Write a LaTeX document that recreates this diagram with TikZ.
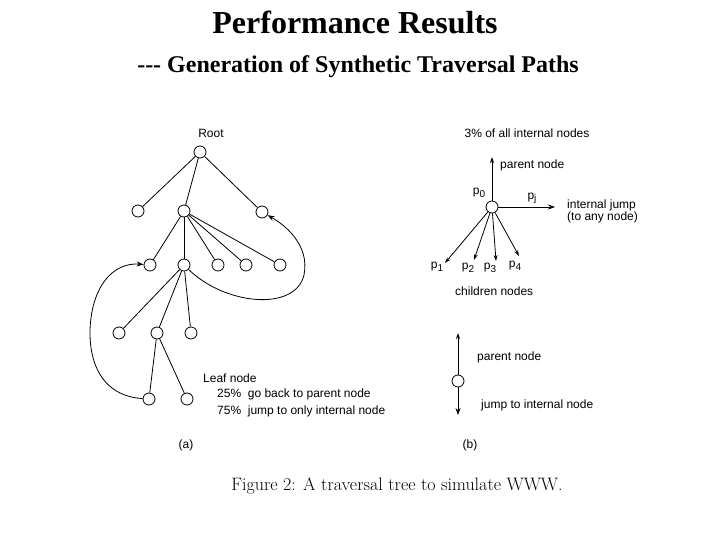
\documentclass[tikz,border=0pt]{standalone}
\usepackage{fontspec}
\newfontfamily\ttl{Liberation Serif}
\newfontfamily\lbl{Liberation Sans}
\usetikzlibrary{arrows.meta}
\newcommand{\psub}[1]{p\raisebox{-0.35ex}{\fontsize{10}{12}\selectfont#1}}
\begin{document}
\begin{tikzpicture}[x=1pt,y=-1pt,
  tn/.style={circle,draw,line width=0.8pt,minimum size=12pt,inner sep=0pt},
  txt/.style={font=\lbl\fontsize{12}{14}\selectfont,inner sep=0pt},
  ed/.style={line width=0.8pt},
  oa/.style={ed,-{Stealth[open,length=6pt,width=4pt]}},
  fa/.style={ed,-{Stealth[length=7pt,width=5pt]}}]
\useasboundingbox (0,0) rectangle (720,540);
\node[font=\ttl\bfseries\fontsize{32}{36}\selectfont] (title) at (355,22) {Performance Results};
\node[font=\ttl\bfseries\fontsize{24}{28}\selectfont] (sub) at (358,67) {--- Generation of Synthetic Traversal Paths};
% tree (a)
\node[tn] (r) at (200,152) {};
\node[txt] (rl) at (211,133) {Root};
\node[tn] (a1) at (138,211) {};
\node[tn] (a2) at (184,211) {};
\node[tn] (a3) at (262,212) {};
\node[tn] (b1) at (150,265) {};
\node[tn] (b2) at (184,265) {};
\node[tn] (b3) at (218,265) {};
\node[tn] (b4) at (246,265) {};
\node[tn] (b5) at (280,265) {};
\node[tn] (c1) at (119,333) {};
\node[tn] (c2) at (157,333) {};
\node[tn] (c3) at (191,333) {};
\node[tn] (d1) at (149,399) {};
\node[tn] (d2) at (187,399) {};
\foreach \u/\v in {r/a1,r/a2,r/a3,a2/b1,a2/b2,a2/b3,a2/b4,a2/b5,b2/c1,b2/c2,b2/c3,c2/d1,c2/d2}
  \draw[ed] (\u) -- (\v);
\draw[fa] (b2) .. controls (225,305) and (295,312) .. (304,275)
  .. controls (310,245) and (285,225) .. (a3);
\draw[fa] (d1) .. controls (85,395) and (85,330) .. (95,300)
  .. controls (105,270) and (125,263) .. (b1);
\node[txt,anchor=west] (leaf) at (203,378) {Leaf node};
\node[txt,anchor=west] (l1) at (217,394) {25\%\ \ go back to parent node};
\node[txt,anchor=west] (l2) at (217,411) {75\%\ \ jump to only internal node};
\node[txt] (ca) at (186,445) {(a)};
% (b) top
\node[txt] (pc) at (527,133) {3\% of all internal nodes};
\node[tn] (p) at (492,207) {};
\coordinate (pu) at (492,157);
\coordinate (pr) at (555,207);
\coordinate (q1) at (445,263);
\coordinate (q2) at (474,260);
\coordinate (q3) at (496,261);
\coordinate (q4) at (519,256);
\draw[oa] (p) -- (pu);
\draw[fa] (p) -- (pr);
\foreach \q in {q1,q2,q3,q4} \draw[oa] (p) -- (\q);
\node[txt,anchor=west] (pn) at (500,165) {parent node};
\node[txt] (p0) at (479,193) {\psub{0}};
\node[txt] (pj) at (532,198) {\psub{j}};
\node[txt,anchor=west] (ij) at (567,205) {internal jump};
\node[txt,anchor=west] (ij2) at (567,217) {(to any node)};
\node[txt] (p1) at (437,267) {\psub{1}};
\node[txt] (p2) at (468,268) {\psub{2}};
\node[txt] (p3) at (490,268) {\psub{3}};
\node[txt] (p4) at (515,266) {\psub{4}};
\node[txt,anchor=west] (cn) at (455,291) {children nodes};
% (b) bottom
\node[tn] (s) at (458,381) {};
\coordinate (su) at (458,333);
\coordinate (sd) at (458,415);
\draw[oa] (s) -- (su);
\draw[fa] (s) -- (sd);
\node[txt,anchor=west] (spn) at (477,357) {parent node};
\node[txt,anchor=west] (sj) at (481,405) {jump to internal node};
\node[txt] (cb) at (470,445) {(b)};
\node[font=\fontsize{18}{21}\selectfont] (cap) at (397,486) {Figure 2: A traversal tree to simulate WWW.};
\end{tikzpicture}
\end{document}
